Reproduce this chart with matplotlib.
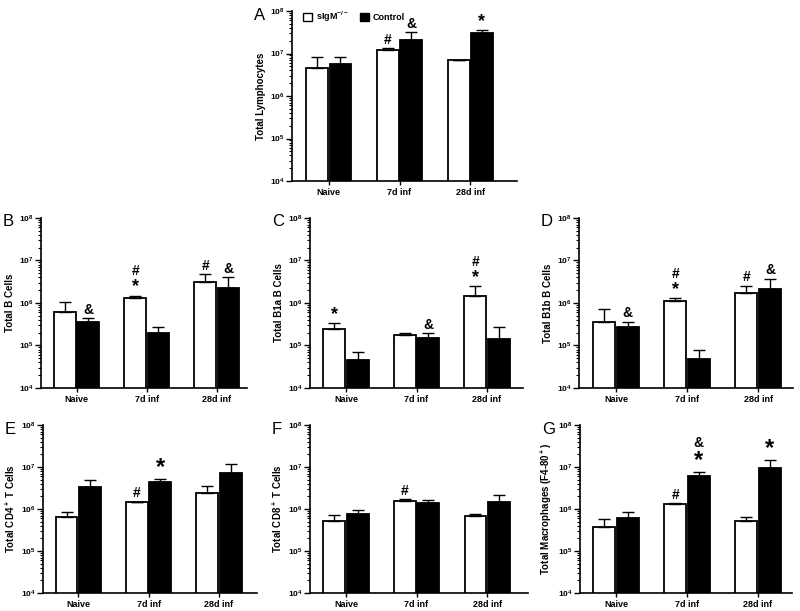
import matplotlib
matplotlib.use("Agg")
import matplotlib.pyplot as plt
from matplotlib.patches import Patch
from matplotlib.ticker import LogLocator, FixedLocator, FixedFormatter
import numpy as np

plt.rcParams['font.family'] = ['Liberation Sans', 'DejaVu Sans']
plt.rcParams['font.weight'] = 'bold'
plt.rcParams['mathtext.fontset'] = 'custom'
plt.rcParams['mathtext.rm'] = 'Liberation Sans:bold'
plt.rcParams['mathtext.bf'] = 'Liberation Sans:bold'
plt.rcParams['mathtext.default'] = 'bf'

groups = ["Naive", "7d inf", "28d inf"]
series = ["sIgM$^{-/-}$", "Control"]

# panel A - total lymphocytes
a_sigm = [4.6e6, 1.2e7, 6.9e6]
a_sigm_err = [3.5e6, 1.3e6, 0.3e6]
a_ctrl = [5.6e6, 2.05e7, 3.0e7]
a_ctrl_err = [2.5e6, 1.15e7, 5.0e6]
a_sigm_marks = ["", "#", ""]
a_ctrl_marks = ["", "&", "*"]

# panel B - total B cells
b_sigm = [6.3e5, 1.3e6, 3.1e6]
b_sigm_err = [4.2e5, 2.0e5, 1.7e6]
b_ctrl = [3.5e5, 1.97e5, 2.2e6]
b_ctrl_err = [9.0e4, 7.3e4, 1.8e6]
b_sigm_marks = ["", "#*", "#"]
b_ctrl_marks = ["&", "", "&"]

# panel C - B1a
c_sigm = [2.5e5, 1.73e5, 1.46e6]
c_sigm_err = [9.0e4, 2.4e4, 1.01e6]
c_ctrl = [4.5e4, 1.5e5, 1.45e5]
c_ctrl_err = [2.5e4, 4.7e4, 1.25e5]
c_sigm_marks = ["*", "", "#*"]
c_ctrl_marks = ["", "&", ""]

# panel D - B1b
d_sigm = [3.6e5, 1.13e6, 1.69e6]
d_sigm_err = [3.5e5, 1.8e5, 8.7e5]
d_ctrl = [2.7e5, 4.8e4, 2.1e6]
d_ctrl_err = [9.0e4, 2.9e4, 1.6e6]
d_sigm_marks = ["", "#*", "#"]
d_ctrl_marks = ["&", "", "&"]

# panel E - CD4+
e_sigm = [6.3e5, 1.46e6, 2.4e6]
e_sigm_err = [2.0e5, 2.0e4, 1.2e6]
e_ctrl = [3.4e6, 4.5e6, 7.3e6]
e_ctrl_err = [1.6e6, 6.0e5, 4.2e6]
e_sigm_marks = ["", "#", ""]
e_ctrl_marks = ["", "*", ""]

# panel F - CD8+
f_sigm = [5.2e5, 1.57e6, 6.7e5]
f_sigm_err = [2.1e5, 1.2e5, 1.1e5]
f_ctrl = [7.8e5, 1.41e6, 1.49e6]
f_ctrl_err = [1.9e5, 1.9e5, 6.1e5]
f_sigm_marks = ["", "#", ""]
f_ctrl_marks = ["", "", ""]

# panel G - macrophages
g_sigm = [3.7e5, 1.29e6, 5.2e5]
g_sigm_err = [2.0e5, 1.0e5, 1.3e5]
g_ctrl = [6.1e5, 5.96e6, 9.7e6]
g_ctrl_err = [2.5e5, 1.54e6, 4.6e6]
g_sigm_marks = ["", "#", ""]
g_ctrl_marks = ["", "&*", "*"]

panels = [
    ("A", "Total Lymphocytes", a_sigm, a_sigm_err, a_ctrl, a_ctrl_err, a_sigm_marks, a_ctrl_marks),
    ("B", "Total B Cells", b_sigm, b_sigm_err, b_ctrl, b_ctrl_err, b_sigm_marks, b_ctrl_marks),
    ("C", "Total B1a B Cells", c_sigm, c_sigm_err, c_ctrl, c_ctrl_err, c_sigm_marks, c_ctrl_marks),
    ("D", "Total B1b B Cells", d_sigm, d_sigm_err, d_ctrl, d_ctrl_err, d_sigm_marks, d_ctrl_marks),
    ("E", "Total CD4$^+$ T Cells", e_sigm, e_sigm_err, e_ctrl, e_ctrl_err, e_sigm_marks, e_ctrl_marks),
    ("F", "Total CD8$^+$ T Cells", f_sigm, f_sigm_err, f_ctrl, f_ctrl_err, f_sigm_marks, f_ctrl_marks),
    ("G", "Total Macrophages (F4-80$^+$)", g_sigm, g_sigm_err, g_ctrl, g_ctrl_err, g_sigm_marks, g_ctrl_marks),
]

W, H = 800, 611
# axes boxes in pixels: left, right, top, bottom ; and x limits
boxes = {
    "A": (292, 517, 11, 181, (-0.52, 2.66)),
    "B": (41, 247, 218, 388, (-0.51, 2.43)),
    "C": (310, 523, 218, 388, (-0.51, 2.51)),
    "D": (579, 793, 218, 388, (-0.52, 2.49)),
    "E": (43, 257, 425, 593, (-0.50, 2.54)),
    "F": (310, 528, 425, 593, (-0.51, 2.58)),
    "G": (580, 792, 425, 593, (-0.51, 2.48)),
}
big_star = {"E", "G"}

fig = plt.figure(figsize=(W / 100, H / 100), dpi=100)

x = np.arange(len(groups))
bw = 0.31
off = 0.165


def mark(ax, xi, ytop, sym, fs, dy):
    ax.annotate(sym, (xi, ytop), xytext=(0, dy), textcoords="offset points",
                ha="center", va="bottom", fontsize=fs, fontweight="bold")


for letter, ylabel, s, se, c, ce, sm, cm in panels:
    l, r, t, b, xl = boxes[letter]
    ax = fig.add_axes([l / W, 1 - b / H, (r - l) / W, (b - t) / H])
    ax.bar(x - off, s, bw, color="white", edgecolor="black", linewidth=1.3, zorder=2)
    ax.bar(x + off, c, bw, color="black", edgecolor="black", linewidth=1.3, zorder=2)
    ax.errorbar(x - off, s, yerr=[np.zeros(3), se], fmt="none", ecolor="black",
                elinewidth=1.0, capsize=4.5, capthick=1.0, zorder=3)
    ax.errorbar(x + off, c, yerr=[np.zeros(3), ce], fmt="none", ecolor="black",
                elinewidth=1.0, capsize=4.5, capthick=1.0, zorder=3)
    ax.set_yscale("log")
    ax.set_ylim(1e4, 1e8)
    ax.set_xlim(*xl)
    ax.yaxis.set_major_locator(FixedLocator([1e4, 1e5, 1e6, 1e7, 1e8]))
    ax.yaxis.set_major_formatter(FixedFormatter(["$10^{%d}$" % k for k in range(4, 9)]))
    ax.yaxis.set_minor_locator(LogLocator(base=10, subs=np.arange(2, 10)))
    ax.set_xticks(x)
    ax.set_xticklabels(groups, fontsize=6.5, fontweight="bold")
    ax.tick_params(axis="y", which="major", labelsize=6, length=4, width=1.0, pad=1.5)
    ax.tick_params(axis="y", which="minor", length=2, width=0.8)
    ax.tick_params(axis="x", length=3, width=1.0, pad=2)
    for sp in ["top", "right"]:
        ax.spines[sp].set_visible(False)
    for sp in ["left", "bottom"]:
        ax.spines[sp].set_linewidth(1.2)
    ax.set_ylabel(ylabel, fontsize=7, fontweight="bold", labelpad=3)

    star_fs = 17 if letter in big_star else 13
    for xs, vals, errs, marks in [(x - off, s, se, sm), (x + off, c, ce, cm)]:
        for xi, v, e, m in zip(xs, vals, errs, marks):
            if not m:
                continue
            if m == "*":
                mark(ax, xi, v + e, "*", star_fs, 0)
            elif len(m) == 2:
                # symbol stacked over a star
                mark(ax, xi, v + e, "*", star_fs, 0)
                mark(ax, xi, v + e, m[0], 10, star_fs * 0.95)
            else:
                mark(ax, xi, v + e, m, 10, 1)

    fig.text((l - 38) / W, 1 - (t + 4) / H, letter, fontsize=12, fontweight="normal",
             ha="left", va="center")

    if letter == "A":
        handles = [Patch(facecolor="white", edgecolor="black", linewidth=1.0),
                   Patch(facecolor="black", edgecolor="black", linewidth=1.0)]
        ax.legend(handles, series, loc="upper left", bbox_to_anchor=(0.05, 1.01),
                  ncol=2, frameon=False, handlelength=1.0,
                  handleheight=1.0, handletextpad=0.4, columnspacing=1.2,
                  borderaxespad=0, borderpad=0, prop={"weight": "bold", "size": 6.5})

fig.savefig("out.png", dpi=100)
